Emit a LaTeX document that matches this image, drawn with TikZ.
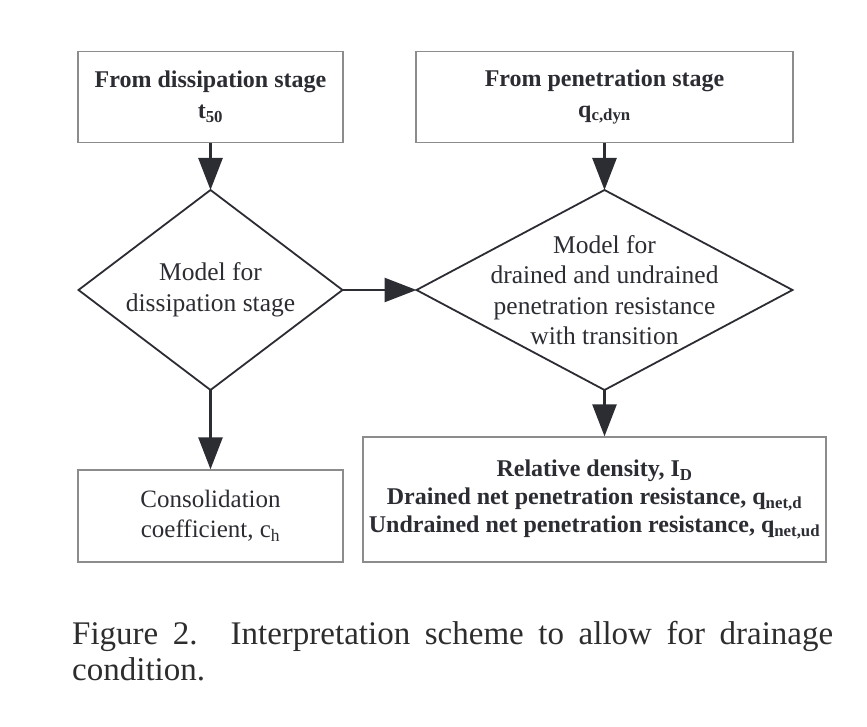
\documentclass[tikz,border=0pt]{standalone}
\usepackage{fontspec}
\setmainfont{Liberation Serif}
\usepackage{tikz}
\usetikzlibrary{shapes.geometric,arrows.meta}

\definecolor{inkdark}{RGB}{43,45,51}
\definecolor{boxgray}{RGB}{140,140,140}
\definecolor{captiongray}{RGB}{45,45,45}

\begin{document}
\begin{tikzpicture}[x=1pt,y=1pt,yscale=-1,xscale=1,
  stagebox/.style={draw=boxgray,line width=1.3pt,inner sep=0pt,align=center,text=inkdark,
    font=\fontsize{24}{31}\selectfont\bfseries},
  resultbox/.style={stagebox,font=\fontsize{25}{30}\selectfont},
  decision/.style={diamond,draw=inkdark,line width=1.8pt,inner sep=0pt,outer sep=0pt},
  modeltext/.style={inner sep=0pt,align=center,text=inkdark,font=\fontsize{25.5}{30.5}\selectfont},
  flowarrow/.style={draw=inkdark,line width=2.6pt,-{Triangle[length=32pt,width=24pt]}}]
%set diagram size to the reference: 867 x 727
\path[use as bounding box] (0,0) rectangle (867,727);

%Shape: Rectangle [dissipation input]
\node[stagebox,minimum width=265,minimum height=91] (dissbox) at (210.5,97)
  {From dissipation stage\\t\textsubscript{50}};
%Shape: Rectangle [penetration input]
\node[stagebox,minimum width=377,minimum height=91] (penbox) at (604.5,97)
  {From penetration stage\\q\textsubscript{c,dyn}};

%Shape: Diamond [dissipation model]
\node[decision,minimum width=264,minimum height=200] (dissmodel) at (210.5,290) {};
% Text Node
\node[modeltext] (dissmodeltext) at (dissmodel) {Model for\\dissipation stage};
%Shape: Diamond [penetration model]
\node[decision,minimum width=376,minimum height=200] (penmodel) at (604.5,290) {};
% Text Node
\node[modeltext] (penmodeltext) at (penmodel)
  {Model for\\drained and undrained\\penetration resistance\\with transition};

%Shape: Rectangle [consolidation result]
\node[resultbox,minimum width=265,minimum height=92] (consbox) at (210.5,516)
  {Consolidation\\coefficient, c\textsubscript{h}};
%Shape: Rectangle [density result]
\node[stagebox,minimum width=463,minimum height=125,font=\fontsize{24}{28}\selectfont\bfseries] (densbox) at (594.5,499.5)
  {Relative density, I\textsubscript{D}\\
   Drained net penetration resistance, q\textsubscript{net,d}\\
   Undrained net penetration resistance, q\textsubscript{net,ud}};

%Straight Lines [arrows]
\draw[flowarrow] (dissbox.south) -- (dissmodel.north);
\draw[flowarrow] (penbox.south) -- (penmodel.north);
\draw[flowarrow] (dissmodel.east) -- (penmodel.west);
\draw[flowarrow] (dissmodel.south) -- (consbox.north);
\draw[flowarrow] (penmodel.south) -- (penmodel.south |- densbox.north);

% Text Node [caption]
\node[anchor=north west,inner sep=0pt,text width=761pt,align=justify,text=captiongray,
  font=\fontsize{33}{36}\selectfont] (figcaption) at (72,621)
  {Figure 2.\quad Interpretation scheme to allow for drainage condition.};

\end{tikzpicture}
\end{document}
